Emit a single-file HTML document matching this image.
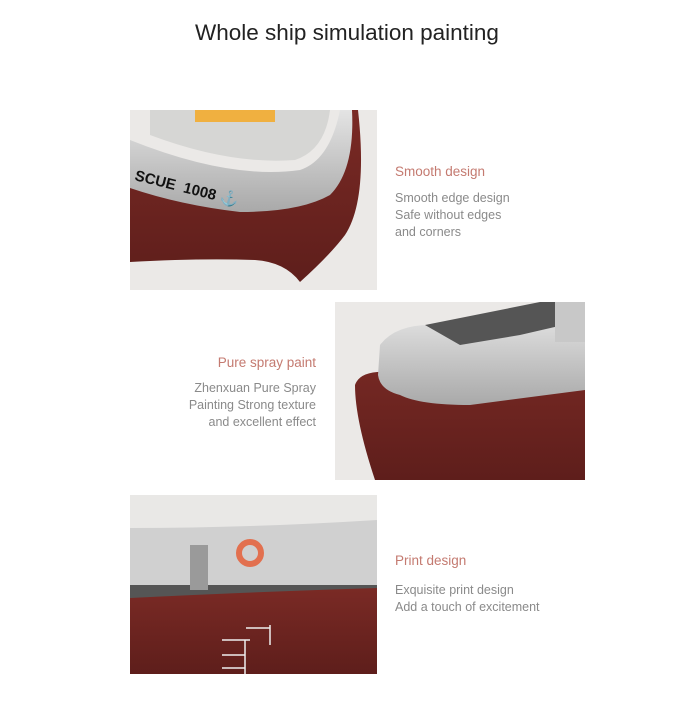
<!DOCTYPE html>
<html><head><meta charset="utf-8"><style>
html,body{margin:0;padding:0;background:#fff;}
body{width:700px;height:702px;position:relative;overflow:hidden;font-family:"Liberation Sans",sans-serif;}
.t{position:absolute;white-space:nowrap;}
.h{color:#c47a70;font-size:13.5px;}
.b{color:#8a8a8a;font-size:12.5px;line-height:17px;}
</style></head><body>
<div class="t" style="left:0;width:694px;text-align:center;top:20px;font-size:22.5px;color:#222;">Whole ship simulation painting</div>
<svg width="700" height="702" style="position:absolute;left:0;top:0">
<defs>
<clipPath id="c1"><rect x="130" y="110" width="247" height="180"/></clipPath>
<clipPath id="c2"><rect x="335" y="302" width="250" height="178"/></clipPath>
<clipPath id="c3"><rect x="130" y="495" width="247" height="179"/></clipPath>
<linearGradient id="sv" x1="0" y1="0" x2="0" y2="1"><stop offset="0" stop-color="#e4e4e4"/><stop offset="1" stop-color="#a9a9a9"/></linearGradient>
<linearGradient id="mr" x1="0" y1="0" x2="0" y2="1"><stop offset="0" stop-color="#7a2a25"/><stop offset="1" stop-color="#5e1e1b"/></linearGradient>
</defs>
<g clip-path="url(#c1)">
<rect x="130" y="110" width="247" height="180" fill="#ebe9e7"/>
<path d="M130,175 Q240,215 320,195 Q345,175 350,110 L358,110 Q368,200 345,235 Q330,255 300,282 Q285,262 255,260 Q200,258 130,262 Z" fill="url(#mr)"/>
<path d="M130,140 Q230,180 300,170 Q330,160 340,110 L352,110 Q355,170 330,195 Q300,212 240,212 Q180,205 130,188 Z" fill="url(#sv)"/>
<path d="M150,110 L330,110 Q325,150 295,160 Q230,165 150,135 Z" fill="#d6d6d4"/>
<rect x="195" y="110" width="80" height="12" fill="#f0b040"/>
<text x="134" y="180" font-size="15" font-weight="bold" fill="#111" transform="rotate(14 134 180)">SCUE &#160;1008 ⚓</text>
</g>
<g clip-path="url(#c2)">
<rect x="335" y="302" width="250" height="178" fill="#ebe9e7"/>
<path d="M355,385 Q360,370 390,372 L585,345 L585,480 L375,480 Q355,420 355,385 Z" fill="url(#mr)"/>
<path d="M380,345 Q395,325 430,325 L585,312 L585,390 L470,405 Q420,405 400,395 Q380,390 378,375 Z" fill="url(#sv)"/>
<path d="M425,325 L540,302 L585,302 L585,320 L520,335 L460,345 Z" fill="#555"/>
<rect x="555" y="302" width="30" height="40" fill="#c8c8c8"/>
</g>
<g clip-path="url(#c3)">
<rect x="130" y="495" width="247" height="179" fill="#e9e8e6"/>
<path d="M130,528 Q250,528 377,520 L377,590 L130,592 Z" fill="#d0d0d0"/>
<rect x="130" y="585" width="247" height="15" fill="#555"/>
<path d="M130,598 Q250,592 377,588 L377,674 L130,674 Z" fill="url(#mr)"/>
<rect x="190" y="545" width="18" height="45" fill="#9a9a9a"/>
<circle cx="250" cy="553" r="11" fill="none" stroke="#e2704f" stroke-width="6"/>
<path d="M222,640 H250 M222,655 H245 M222,668 H245 M246,628 H270 M245,640 V674 M270,625 V645" stroke="#eee" stroke-width="1.5" fill="none"/>
</g>
</svg>
<div class="t h" style="left:395px;top:164px;">Smooth design</div>
<div class="t b" style="left:395px;top:190px;">Smooth edge design<br>Safe without edges<br>and corners</div>
<div class="t h" style="right:384px;top:355px;text-align:right;">Pure spray paint</div>
<div class="t b" style="right:384px;top:380px;text-align:right;">Zhenxuan Pure Spray<br>Painting Strong texture<br>and excellent effect</div>
<div class="t h" style="left:395px;top:553px;">Print design</div>
<div class="t b" style="left:395px;top:582px;">Exquisite print design<br>Add a touch of excitement</div>
</body></html>
